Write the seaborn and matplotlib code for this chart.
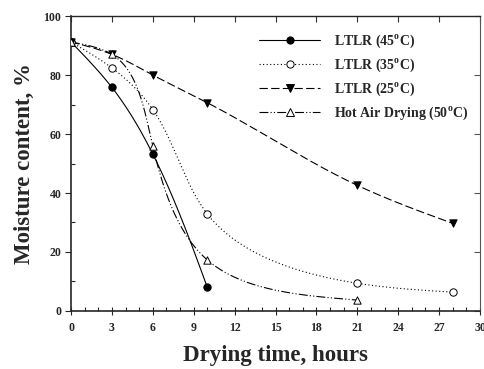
import numpy as np
import matplotlib
matplotlib.use("Agg")
import matplotlib.pyplot as plt
from matplotlib.lines import Line2D
from matplotlib.ticker import MultipleLocator
import seaborn as sns

# Drying curves: time (hours) vs moisture content (%)
time_45 = [0, 3, 6, 10]
moist_45 = [91.2, 75.8, 53.2, 8.0]

time_35 = [0, 3, 6, 10, 21, 28]
moist_35 = [91.2, 82.4, 68.3, 32.9, 9.4, 6.4]

time_25 = [0, 3, 6, 10, 21, 28]
moist_25 = [91.2, 87.0, 80.0, 70.6, 42.6, 29.7]

time_hot = [0, 3, 6, 10, 21]
moist_hot = [91.2, 87.0, 55.9, 17.3, 3.7]

labels = ["LTLR (45$^{\\rm o}$C)", "LTLR (35$^{\\rm o}$C)",
          "LTLR (25$^{\\rm o}$C)", "Hot Air Drying (50$^{\\rm o}$C)"]

x_ticks = [0, 3, 6, 9, 12, 15, 18, 21, 24, 27, 30]
y_ticks = [0, 20, 40, 60, 80, 100]


def _natural_coeffs(t, v):
    k = len(t)
    h = np.diff(t)
    A = np.zeros((k, k))
    b = np.zeros(k)
    A[0, 0] = 1.0
    A[-1, -1] = 1.0
    for i in range(1, k - 1):
        A[i, i - 1] = h[i - 1]
        A[i, i] = 2 * (h[i - 1] + h[i])
        A[i, i + 1] = h[i]
        b[i] = 6 * ((v[i + 1] - v[i]) / h[i] - (v[i] - v[i - 1]) / h[i - 1])
    return np.linalg.solve(A, b)


def _eval(t, v, M, ts):
    k = len(t)
    idx = np.clip(np.searchsorted(t, ts, side="right") - 1, 0, k - 2)
    t0, t1 = t[idx], t[idx + 1]
    v0, v1 = v[idx], v[idx + 1]
    m0, m1 = M[idx], M[idx + 1]
    hh = t1 - t0
    a = t1 - ts
    c = ts - t0
    return (m0 * a ** 3 / (6 * hh) + m1 * c ** 3 / (6 * hh)
            + (v0 / hh - m0 * hh / 6) * a + (v1 / hh - m1 * hh / 6) * c)


def smooth_curve(x, y, n=400):
    """Parametric natural cubic spline through the points (chord-length
    parameter measured in axis-scaled units)."""
    x = np.asarray(x, float)
    y = np.asarray(y, float)
    sx, sy = x / 30.0 * 409, y / 100.0 * 295
    t = np.concatenate([[0], np.cumsum(np.hypot(np.diff(sx), np.diff(sy)))])
    ts = np.linspace(0, t[-1], n)
    xs = _eval(t, x, _natural_coeffs(t, x), ts)
    ys = _eval(t, y, _natural_coeffs(t, y), ts)
    return xs, ys


sns.set_style("ticks")
plt.rcParams["font.family"] = ["Liberation Serif"]
plt.rcParams["font.weight"] = "bold"
plt.rcParams["mathtext.fontset"] = "custom"
plt.rcParams["mathtext.rm"] = "Liberation Serif:bold"
plt.rcParams["mathtext.bf"] = "Liberation Serif:bold"

fig = plt.figure(figsize=(4.85, 3.69), dpi=100)
ax = fig.add_axes([0.1464, 0.1572, 0.8433, 0.7994])

series = [
    (time_45, moist_45, "-", "o", "black"),
    (time_35, moist_35, (0, (1, 2.2)), "o", "white"),
    (time_25, moist_25, (0, (7.5, 3)), "v", "black"),
    (time_hot, moist_hot, (0, (8, 2, 1, 2, 1, 2)), "^", "white"),
]

handles = []
for (tx, my, ls, mk, fc), lab in zip(series, labels):
    xs, ys = smooth_curve(tx, my)
    sns.lineplot(x=xs, y=ys, ax=ax, color="black", linewidth=0.8,
                 linestyle=ls, sort=False, estimator=None)
    sns.scatterplot(x=tx, y=my, ax=ax, marker=mk, s=28, color=fc,
                    edgecolor="black", linewidth=0.7, zorder=5)
    handles.append(Line2D([0], [0], color="black", linewidth=0.8, linestyle=ls,
                          marker=mk, markersize=5.2, markerfacecolor=fc,
                          markeredgecolor="black", markeredgewidth=0.7))

ax.set_xlim(0, 30)
ax.set_ylim(0, 100)
ax.set_xticks(x_ticks)
ax.set_yticks(y_ticks)
ax.xaxis.set_minor_locator(MultipleLocator(1))
ax.yaxis.set_minor_locator(MultipleLocator(10))
ax.tick_params(axis="x", which="major", direction="inout", length=6, width=0.8,
               labelsize=8.5, pad=5)
ax.tick_params(axis="x", which="minor", direction="in", length=3, width=0.8)
ax.tick_params(axis="y", which="major", direction="out", length=4, width=0.8,
               labelsize=8.5, pad=3)
ax.tick_params(axis="y", which="minor", direction="in", length=3, width=0.8)
for lab in ax.get_xticklabels() + ax.get_yticklabels():
    lab.set_fontweight("bold")

for side in ["left", "bottom"]:
    ax.spines[side].set_linewidth(1.2)
ax.spines["top"].set_visible(True)
ax.spines["top"].set_linewidth(1.0)
ax.spines["right"].set_visible(True)
ax.spines["right"].set_linewidth(0.8)
ax.spines["right"].set_color("#555555")

top = ax.secondary_xaxis("top")
top.set_xticks(x_ticks)
top.tick_params(direction="in", length=4, width=0.8, labeltop=False, color="#333333")
top.spines["top"].set_visible(False)
right = ax.secondary_yaxis("right")
right.set_yticks(y_ticks)
right.tick_params(direction="in", length=4, width=0.8, labelright=False, color="#555555")
right.spines["right"].set_visible(False)

ax.set_xlabel("Drying time, hours", fontsize=16.5, fontweight="bold", labelpad=8)
ax.set_ylabel("Moisture content, %", fontsize=16.5, fontweight="bold", labelpad=6)

leg = ax.legend(handles, labels, loc="upper left", bbox_to_anchor=(0.46, 0.945),
                frameon=False, fontsize=10, handlelength=4.4, handletextpad=1.0,
                labelspacing=0.5, borderpad=0, borderaxespad=0)
for t in leg.get_texts():
    t.set_fontweight("bold")

fig.savefig("out.png", dpi=100)
